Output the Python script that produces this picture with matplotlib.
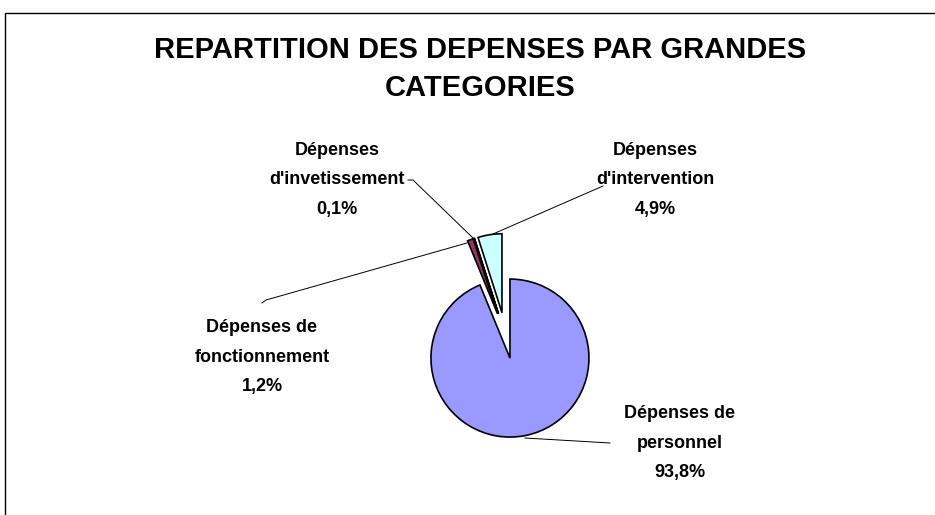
import matplotlib.pyplot as plt
import matplotlib.patches as mpatches

plt.rcParams['font.family'] = ['Liberation Sans', 'DejaVu Sans']

# Data
categories = ['Dépenses de\npersonnel', 'Dépenses de\nfonctionnement',
              "Dépenses\nd'invetissement", "Dépenses\nd'intervention"]
shares = [93.8, 1.2, 0.1, 4.9]
colors = ['#9999FF', '#993366', '#FFFFCC', '#CCFFFF']
title = 'REPARTITION DES DEPENSES PAR GRANDES\nCATEGORIES'

W, H = 935, 515
fig = plt.figure(figsize=(W / 100, H / 100), dpi=100)
ax = fig.add_axes([0, 0, 1, 1])

# pie geometry in pixel units (y up)
cx, cy = 505.5, H - 335.5
radius = 79
expl = 23

wedges, _ = ax.pie(shares, colors=colors, startangle=90, counterclock=False,
                   radius=radius, center=(cx, cy), explode=[expl] * 4,
                   wedgeprops=dict(edgecolor='black', linewidth=1.2),
                   frame=True)

ax.set_xlim(0, W)
ax.set_ylim(0, H)
ax.set_aspect('auto')
ax.axis('off')

# outer frame (cut by the image edges)
ax.add_patch(mpatches.Rectangle((4.5, -20), W + 20, H - 12.5 + 20, fill=False,
                                edgecolor='black', linewidth=1.0))

ax.text(480, H - 69, title, ha='center', va='center', fontsize=21,
        fontweight='bold', linespacing=1.5)

# labels with percentages
lab_pos = [(680, H - 443), (262, H - 357), (337, H - 180), (655, H - 180)]
for cat, val, (lx, ly) in zip(categories, shares, lab_pos):
    txt = cat + '\n' + f'{val:.1f}%'.replace('.', ',')
    ax.text(lx, ly, txt, ha='center', va='center', fontsize=13,
            fontweight='bold', linespacing=1.95)

# leader lines
leaders = [
    [(525, 438), (610, 443)],
    [(262, 303), (266, 300), (467, 243)],
    [(408, 180), (413, 180), (473, 238)],
    [(603, 186), (493, 234)],
]
for pts in leaders:
    xs = [p[0] for p in pts]
    ys = [H - p[1] for p in pts]
    ax.plot(xs, ys, color='black', linewidth=0.7)

fig.savefig('out.png', dpi=100)
